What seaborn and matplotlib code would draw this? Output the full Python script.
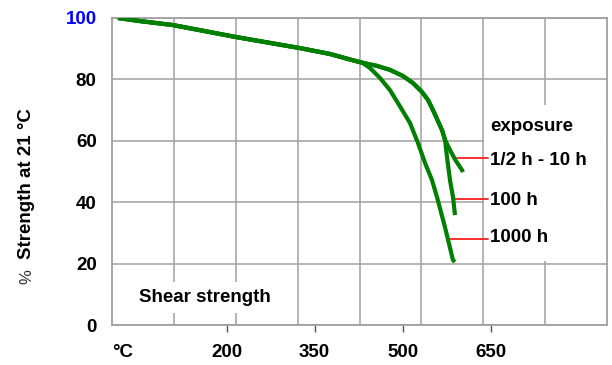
import numpy as np
import pandas as pd
import matplotlib
matplotlib.use("Agg")
import matplotlib.pyplot as plt
import seaborn as sns
from matplotlib.patches import Rectangle

# ---- data ----
trunk_temp = [15, 52.5, 108.7, 216, 325, 376, 410, 432]
trunk_strength = [100, 99.0, 97.7, 93.8, 90.2, 88.3, 86.5, 85.4]

shared_temp = [456.4, 478.6, 500.8, 517.9, 533.2, 543.4, 551.9, 567.3, 572.4]
shared_strength = [84.4, 83.1, 81.1, 78.8, 75.9, 73.3, 70.0, 63.5, 60.3]

half_temp = [580.9, 590.2, 601.3, 603]
half_strength = [57.0, 53.7, 50.5, 49.8]

h100_temp = [575.8, 580.9, 586, 589.4]
h100_strength = [54.7, 47.2, 41.7, 35.8]

h1000_temp = [444.5, 461.5, 478.6, 492.2, 512.7, 526.3, 538.3, 550.2,
              558.7, 572.3, 585.9, 589]
h1000_strength = [83.7, 80.5, 76.5, 72.3, 65.8, 59.3, 52.8, 47.2,
                  41.7, 31.9, 21.2, 20.5]

series_names = ["1/2 h - 10 h", "100 h", "1000 h"]
leader_y = [54.4, 41.0, 28.0]
leader_x0 = [593, 586, 579]
label_baseline = [52.1, 39.1, 27.1]

x_ticks = [200, 350, 500, 650]
y_ticks = [0, 20, 40, 60, 80, 100]

# ---- build table ----
branch_t = [shared_temp + half_temp, shared_temp + h100_temp, h1000_temp]
branch_s = [shared_strength + half_strength, shared_strength + h100_strength,
            h1000_strength]
frames = []
for name, t, s in zip(series_names, branch_t, branch_s):
    frames.append(pd.DataFrame({"temp": trunk_temp + t,
                                "strength": trunk_strength + s,
                                "exposure": name}))
df = pd.concat(frames, ignore_index=True)

sns.set_theme(style="white")
plt.rcParams["font.family"] = ["Liberation Sans", "DejaVu Sans"]
plt.rcParams["text.color"] = "black"

fig = plt.figure(figsize=(6.12, 3.65), dpi=100)
ax = fig.add_axes([112 / 612, 1 - 325 / 365, 495 / 612, 307 / 365])

GREEN = "#007f00"
GRID = "#a0a0a0"
FS = 13.5

sns.lineplot(data=df, x="temp", y="strength", hue="exposure",
             palette={n: GREEN for n in series_names}, sort=False,
             estimator=None, legend=False, linewidth=3.0, ax=ax, zorder=3,
             solid_capstyle="butt", solid_joinstyle="round")

xmin, xmax = 4.8, 848.5
ax.set_xlim(xmin, xmax)
ax.set_ylim(0, 100)

ax.set_xticks(x_ticks)
ax.set_xticks(np.linspace(xmin, xmax, 9)[1:-1], minor=True)
ax.set_yticks(y_ticks)
ax.set_xlabel("")
ax.set_ylabel("")

ax.set_axisbelow(True)
ax.grid(False)
ax.grid(True, axis="x", which="minor", color=GRID, lw=1.1)
ax.grid(True, axis="y", which="major", color=GRID, lw=1.1)

for sp in ax.spines.values():
    sp.set_color(GRID)
    sp.set_linewidth(1.3)
    sp.set_zorder(2.5)

ax.tick_params(axis="x", which="major", direction="out", length=5, width=1,
               color="#555555", pad=9, labelsize=FS, bottom=True)
ax.tick_params(axis="x", which="minor", length=0)
ax.tick_params(axis="y", which="major", length=0, pad=11, labelsize=FS)
for lab in ax.get_xticklabels() + ax.get_yticklabels():
    lab.set_fontweight("bold")
    lab.set_color("black")
ax.get_yticklabels()[-1].set_color("#0000ff")

# white box behind exposure labels
ax.add_patch(Rectangle((638.8, 20.7), xmax - 638.8 - 2, 71.7 - 20.7,
                       facecolor="white", edgecolor="none", zorder=1))

# leader lines and labels
for x0, y, yb, name in zip(leader_x0, leader_y, label_baseline, series_names):
    ax.plot([x0, 646], [y, y], color="#ff2020", lw=1.3, zorder=2)
    ax.text(649, yb, name, fontsize=FS, fontweight="bold", ha="left",
            va="baseline", zorder=4, color="black")
ax.text(649, 63.3, "exposure", fontsize=FS, fontweight="bold", ha="left",
        va="baseline", zorder=4, color="black")

ax.text(50.8, 7.4, "Shear strength", fontsize=FS, fontweight="bold",
        ha="left", va="baseline", zorder=4, color="black",
        bbox=dict(facecolor="white", edgecolor="none", pad=5))

fig.text(112 / 612, 1 - 352.5 / 365, "°C", fontsize=FS, fontweight="bold",
         ha="left", va="center", color="black")
fig.text(27 / 612, 1 - 277 / 365, "%", fontsize=12, color="#333333",
         rotation=90, ha="center", va="center")
fig.text(27 / 612, 1 - 183.5 / 365, "Strength at 21 °C", fontsize=FS,
         fontweight="bold", rotation=90, ha="center", va="center",
         color="black")

fig.savefig("out.png", dpi=100, facecolor="white")
